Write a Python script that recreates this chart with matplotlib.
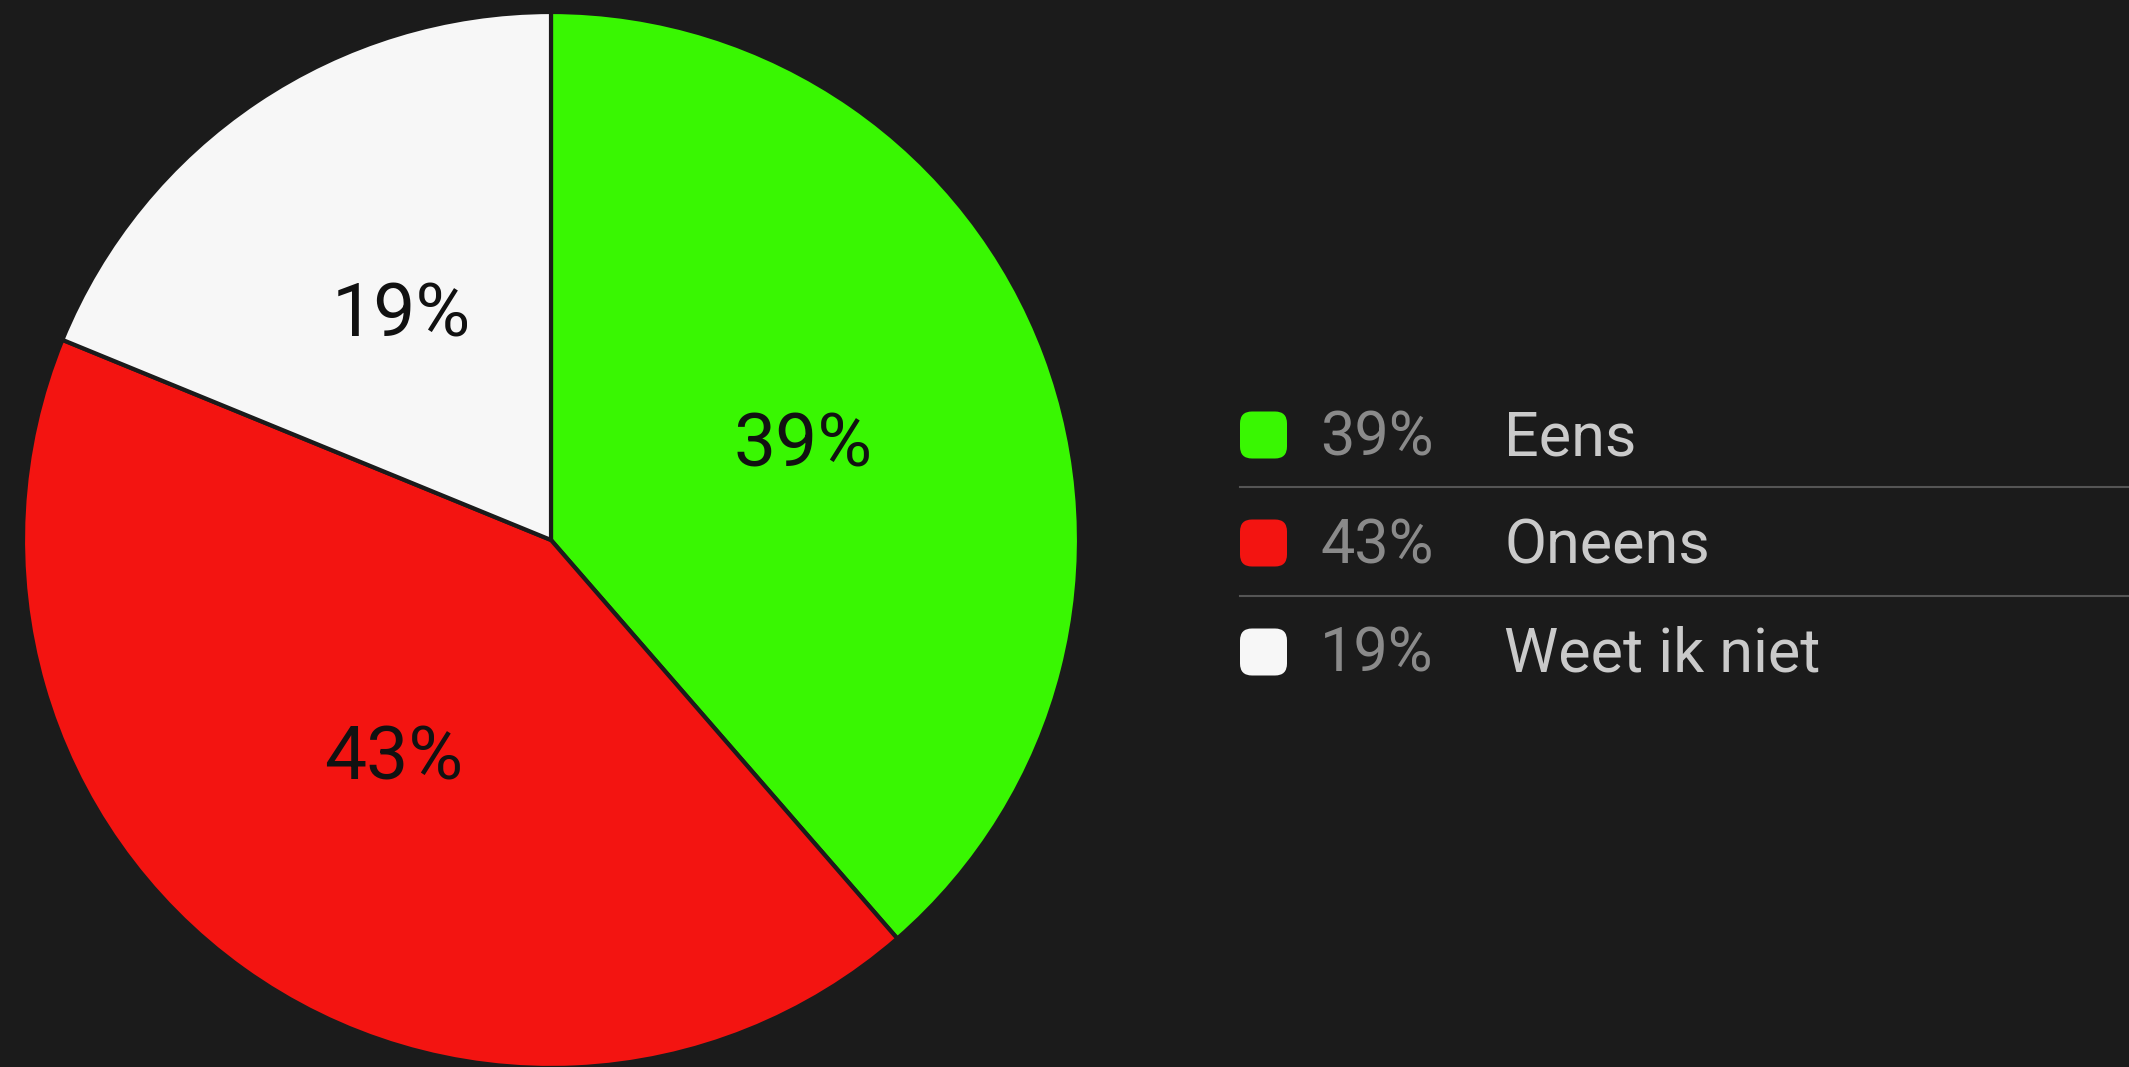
import matplotlib
matplotlib.use("Agg")
import matplotlib.pyplot as plt
from matplotlib.patches import FancyBboxPatch
import numpy as np

# ---- data ----
categories = ["Eens", "Oneens", "Weet ik niet"]
values = [39, 43, 19]
pct_labels = ["39%", "43%", "19%"]
colors = ["#39f702", "#f31411", "#f7f7f7"]

BG = "#1b1b1b"
W, H = 2129, 1067
DPI = 100
plt.rcParams['font.family'] = ['Roboto', 'DejaVu Sans']

fig = plt.figure(figsize=(W / DPI, H / DPI), dpi=DPI, facecolor=BG)

# pie axes (pixel geometry)
cx, cy, R = 551, 540, 528
ax = fig.add_axes([(cx - R) / W, (H - cy - R) / H, 2 * R / W, 2 * R / H])
ax.set_facecolor(BG)
wedges, texts = ax.pie(
    values, labels=pct_labels, colors=colors, startangle=90, counterclock=False,
    radius=1.0, labeldistance=0.51,
    wedgeprops=dict(edgecolor=BG, linewidth=3, joinstyle="round"),
    textprops=dict(fontsize=54, color="#111111", ha="center", va="center"),
)
for t in texts:
    t.set_ha("center")
    t.set_va("center")
ax.set_xlim(-1, 1)
ax.set_ylim(-1, 1)
ax.set_aspect("equal")
ax.axis("off")

# legend overlay in pixel coordinates
lax = fig.add_axes([0, 0, 1, 1], facecolor="none")
lax.set_xlim(0, W)
lax.set_ylim(H, 0)
lax.axis("off")

row_y = [435, 543, 652]
sep_y = [487, 596]
sq = 47
for i, (cat, pl, col) in enumerate(zip(categories, pct_labels, colors)):
    y = row_y[i]
    lax.add_patch(FancyBboxPatch((1240 + 12, y - sq / 2 + 12), sq - 24, sq - 24,
                                 boxstyle="round,pad=12", facecolor=col,
                                 edgecolor="none"))
    lax.text(1320, y + 20, pl, fontsize=44, color="#8a8a8a", ha="left", va="baseline")
    lax.text(1504, y + 20, cat, fontsize=44, color="#cacaca", ha="left", va="baseline")
for y in sep_y:
    lax.plot([1240, W], [y, y], color="#555555", linewidth=1.5)

fig.savefig("out.png", dpi=DPI, facecolor=BG)
